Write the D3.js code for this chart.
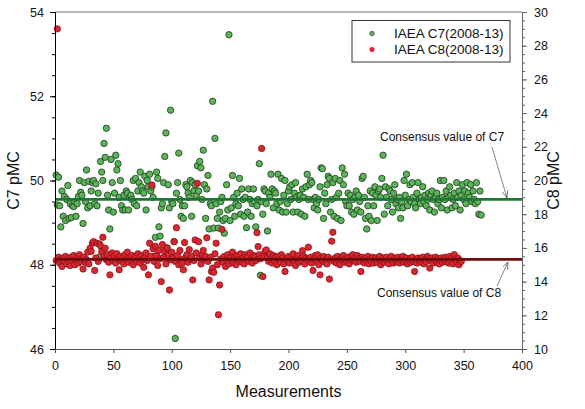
<!DOCTYPE html>
<html><head><meta charset="utf-8">
<script src="https://cdn.jsdelivr.net/npm/d3@7"></script>
<style>
body{margin:0;background:#fff;}
svg{display:block;font-family:"Liberation Sans",Arial,sans-serif;}
</style></head>
<body><svg id="chart" width="585" height="409"></svg>
<script>
// C7 pMC (left axis), measurements 1..n
const c7Values = [
50.13,49.42,50.08,49.40,48.90,49.75,49.15,49.62,49.05,49.55,
49.88,49.10,49.45,49.12,49.40,49.38,49.50,49.15,49.45,49.62,
50.00,49.72,49.65,48.98,49.95,49.50,50.25,49.35,49.98,49.40,
49.75,49.95,50.00,49.45,49.92,49.40,49.70,48.18,50.45,50.20,
50.00,50.88,50.55,51.24,49.65,49.30,48.85,50.50,49.95,49.25,
49.70,50.60,50.25,50.40,49.60,50.00,49.40,49.30,49.65,49.30,
49.75,49.70,49.30,49.60,49.65,49.55,50.00,49.45,50.05,49.40,
49.75,49.95,50.20,49.85,49.75,49.70,50.10,49.30,50.00,49.85,
50.15,49.75,49.85,49.60,48.20,48.65,50.20,50.05,48.90,48.68,
49.35,49.45,49.95,50.57,51.13,48.40,49.90,49.35,51.67,49.50,
49.45,48.55,46.25,49.70,49.95,50.65,49.55,49.15,49.40,49.10,
49.40,49.90,49.85,49.70,49.60,50.00,49.15,49.95,49.75,49.90,
49.65,50.35,49.75,50.45,50.30,49.55,50.72,49.90,49.10,49.80,
50.12,48.85,49.45,49.40,51.88,48.87,51.00,49.45,49.10,48.87,
49.25,49.50,49.60,49.05,48.75,49.10,49.90,49.30,53.46,49.05,
49.35,50.12,49.60,49.15,49.45,49.70,49.40,50.05,49.20,49.80,
49.55,49.15,49.60,48.88,49.25,49.80,49.55,49.15,49.45,49.80,
49.50,48.90,49.40,49.55,50.40,47.75,49.50,49.20,49.80,49.75,
49.45,48.80,49.70,49.60,50.15,49.80,49.35,49.75,49.70,49.45,
50.15,49.30,49.50,50.05,49.25,49.65,50.00,49.25,49.45,49.75,
49.85,49.55,49.90,49.25,49.70,49.95,49.60,49.25,49.55,49.65,
49.20,49.80,49.60,49.15,49.85,50.15,49.55,49.90,50.00,49.95,
49.55,49.35,49.60,49.45,49.30,49.55,49.85,50.30,50.28,49.10,
49.70,49.45,49.90,50.10,50.05,49.25,49.55,49.95,49.15,50.05,
49.60,49.10,49.70,50.00,49.05,50.30,49.90,50.15,49.50,49.40,
49.70,49.40,49.65,49.25,49.55,49.20,49.60,49.75,49.30,49.65,
49.50,49.25,50.05,50.10,49.60,49.10,48.85,49.40,49.15,49.75,
49.05,49.70,49.40,49.85,49.65,49.05,49.75,49.80,49.60,50.05,
50.60,49.20,49.85,49.60,49.40,49.80,49.75,49.55,49.25,49.70,
49.90,49.45,49.55,49.35,49.60,49.10,49.50,49.35,50.00,49.65,
50.15,49.40,49.55,49.90,49.50,49.95,49.60,49.45,49.35,49.70,
49.95,49.55,49.45,49.60,49.85,49.50,49.65,49.40,49.55,49.70,
49.30,49.65,49.75,49.55,49.25,49.60,49.70,49.45,49.55,50.00,
49.35,49.60,50.00,49.55,49.75,49.30,49.60,49.85,49.65,49.35,
49.55,49.70,49.40,49.95,49.60,49.75,49.30,49.65,49.90,49.55,
49.75,49.45,49.95,49.70,49.60,49.90,49.50,49.75,49.55,49.45,
49.95,49.50,49.20,49.75,49.18];

// C8 pMC (right axis), measurements 1..n
const c8Values = [
15.25,29.00,15.45,15.10,15.30,14.90,15.40,15.20,15.50,15.05,
15.35,15.15,14.95,15.45,15.25,15.55,15.00,15.30,15.40,15.10,
15.60,15.20,15.35,14.75,15.45,15.15,15.30,15.75,15.05,15.98,
15.78,16.28,16.37,14.66,15.40,16.28,15.20,16.24,16.12,15.78,
16.63,15.50,15.98,15.30,15.60,15.15,14.40,15.45,15.70,15.25,
15.55,15.10,15.65,15.35,14.70,15.50,15.20,15.40,15.05,15.60,
15.30,15.75,15.15,15.45,15.25,15.55,15.00,15.35,15.50,15.20,
15.65,15.40,15.10,15.55,15.30,14.85,15.45,15.70,15.25,14.40,
16.28,15.50,19.73,15.95,15.20,16.10,15.55,14.95,15.85,15.35,
14.00,16.20,15.45,15.80,15.05,16.00,15.60,13.50,15.30,15.75,
15.40,16.37,15.20,17.20,15.55,15.00,15.85,15.30,15.10,14.70,
16.32,15.45,15.60,15.15,15.90,15.35,15.50,14.10,15.25,16.47,
15.70,19.83,16.37,15.40,15.05,15.60,15.85,15.30,15.50,16.60,
15.20,14.10,15.45,14.60,14.80,14.55,15.65,16.28,15.00,12.03,
13.80,15.35,17.10,15.15,15.50,14.90,15.30,15.60,15.05,15.40,
15.25,15.75,15.10,15.45,15.00,15.55,15.30,15.20,15.65,15.15,
15.40,15.05,15.60,15.30,15.50,15.20,15.70,15.35,15.10,15.55,
15.45,15.25,16.90,16.08,15.60,15.35,21.90,14.30,15.50,15.80,
15.88,15.40,15.20,15.65,15.35,15.10,15.55,15.25,15.45,15.00,
15.50,15.30,15.15,15.60,15.40,15.05,14.60,15.35,15.25,15.50,
15.10,15.45,15.30,15.65,15.20,14.95,15.40,15.55,15.15,15.35,
15.25,15.84,15.50,15.05,15.40,15.30,16.04,15.20,15.45,15.10,
14.66,15.35,15.55,15.20,15.59,15.00,14.40,15.40,15.25,15.50,
15.15,15.35,15.05,15.45,14.15,15.30,16.40,16.93,15.20,15.40,
15.10,15.50,15.25,15.00,15.40,15.30,15.55,15.15,15.35,15.20,
15.45,15.05,15.30,15.50,15.60,15.25,15.40,15.15,15.55,15.35,
15.20,14.60,15.45,15.30,15.10,15.40,15.25,15.50,15.05,15.35,
15.20,15.45,15.10,15.30,15.40,15.15,15.35,15.50,15.00,15.25,
15.40,15.15,15.30,15.45,15.20,15.05,15.35,15.50,15.25,15.10,
15.40,15.20,15.30,15.45,15.10,15.35,15.25,15.50,15.15,15.30,
15.40,15.05,15.25,15.35,15.15,15.45,15.20,14.60,15.30,15.10,
15.40,15.25,15.35,15.15,15.45,15.05,15.30,15.20,15.50,15.35,
14.80,15.25,15.40,15.10,15.30,15.45,15.20,15.35,15.05,15.25,
15.40,15.15,15.30,15.45,15.20,15.35,15.10,15.50,15.25,15.40,
15.05,15.60,15.30,15.15,15.40,15.00,15.25,15.20];

const consensusC7 = 49.55;
const consensusC8 = 15.32;
const seriesNames = ["IAEA C7(2008-13)", "IAEA C8(2008-13)"];
const xTicks = [0,50,100,150,200,250,300,350,400];
const leftTicks = [46,48,50,52,54];
const rightTicks = [10,12,14,16,18,20,22,24,26,28,30];
const annotations = ["Consensus value of C7", "Consensus value of C8"];

const svg = d3.select("#chart");
const x = d3.scaleLinear().domain([0,400]).range([55,522]);
const yL = d3.scaleLinear().domain([46,54]).range([349,12]);
const yR = d3.scaleLinear().domain([10,30]).range([349,12]);

// top frame line
svg.append("line").attr("x1",55).attr("x2",522).attr("y1",12).attr("y2",12)
  .attr("stroke","#777").attr("stroke-width",1);

const greenFill="#5cb35a", greenStroke="#1d3b1d", redFill="#d9262f", redStroke="#7a1118";

// points
const c7 = c7Values.map((v,i)=>({m:i+1,v}));
const c8 = c8Values.map((v,i)=>({m:i+1,v}));
svg.append("g").selectAll("circle").data(c7).join("circle")
  .attr("cx",d=>x(d.m)).attr("cy",d=>yL(d.v)).attr("r",3.2)
  .attr("fill",greenFill).attr("stroke",greenStroke).attr("stroke-width",0.8);
svg.append("g").selectAll("circle").data(c8).join("circle")
  .attr("cx",d=>x(d.m)).attr("cy",d=>yR(d.v)).attr("r",3.2)
  .attr("fill",redFill).attr("stroke",redStroke).attr("stroke-width",0.7);

// consensus lines
svg.append("line").attr("x1",x(0)).attr("x2",x(400)).attr("y1",yL(consensusC7)).attr("y2",yL(consensusC7))
  .attr("stroke","#1f7536").attr("stroke-width",2.8);
svg.append("line").attr("x1",x(0)).attr("x2",x(400)).attr("y1",yR(consensusC8)).attr("y2",yR(consensusC8))
  .attr("stroke","#6e0c0c").attr("stroke-width",2.8);

// axes
function styleAxis(g, color){
  g.select(".domain").attr("stroke",color);
  g.selectAll(".tick line").attr("stroke",color);
  g.selectAll("text").attr("fill","#111").attr("font-size","12.5px")
   .attr("font-family",'"Liberation Sans",Arial,sans-serif');
}
const minorL = d3.range(46,54.01,0.5);
const minorR = d3.range(10,30.01,0.5);
svg.append("g").attr("transform","translate(55,0)")
  .call(d3.axisLeft(yL).tickValues(minorL).tickSize(3).tickFormat(""))
  .call(g=>styleAxis(g,"#000"));
svg.append("g").attr("transform","translate(55,0)")
  .call(d3.axisLeft(yL).tickValues(leftTicks).tickSize(5).tickPadding(6).tickFormat(d3.format("d")))
  .call(g=>styleAxis(g,"#000"));
svg.append("g").attr("transform","translate(522,0)")
  .call(d3.axisRight(yR).tickValues(minorR).tickSize(3).tickFormat(""))
  .call(g=>styleAxis(g,"#666"));
svg.append("g").attr("transform","translate(522,0)")
  .call(d3.axisRight(yR).tickValues(rightTicks).tickSize(5).tickPadding(7).tickFormat(d3.format("d")))
  .call(g=>styleAxis(g,"#666"));
svg.append("g").attr("transform","translate(0,349)")
  .call(d3.axisBottom(x).tickValues(xTicks).tickSize(4).tickPadding(8).tickFormat(d3.format("d")))
  .call(g=>styleAxis(g,"#555"));

// titles
svg.append("text").attr("x",288.5).attr("y",397).attr("text-anchor","middle")
  .attr("font-size","16px").attr("fill","#111").text("Measurements");
svg.append("text").attr("transform","translate(19,180.5) rotate(-90)").attr("text-anchor","middle")
  .attr("font-size","16px").attr("fill","#111").text("C7 pMC");
svg.append("text").attr("transform","translate(559,180.5) rotate(-90)").attr("text-anchor","middle")
  .attr("font-size","16px").attr("fill","#111").text("C8 pMC");

// legend
const lg = svg.append("g");
lg.append("rect").attr("x",352).attr("y",20.5).attr("width",158).attr("height",41.5)
  .attr("fill","#fff").attr("stroke","#333").attr("stroke-width",1);
[[greenFill,greenStroke],[redFill,redFill]].forEach((c,i)=>{
  lg.append("circle").attr("cx",372).attr("cy",33.5+i*16).attr("r",2.3)
    .attr("fill",c[0]).attr("stroke",c[1]).attr("stroke-width",0.6);
  lg.append("text").attr("x",394).attr("y",38.3+i*16).attr("font-size","13.5px")
    .attr("fill","#111").text(seriesNames[i]);
});

// annotations
svg.append("defs").append("marker").attr("id","arr").attr("viewBox","0 0 10 10")
  .attr("refX",10).attr("refY",5).attr("markerWidth",9).attr("markerHeight",9)
  .attr("orient","auto").append("path").attr("d","M0,1 L10,5 L0,9")
  .attr("fill","none").attr("stroke","#555").attr("stroke-width",1);
svg.append("text").attr("x",380).attr("y",141).attr("font-size","12px").attr("fill","#111").text(annotations[0]);
svg.append("line").attr("x1",492).attr("y1",147).attr("x2",507).attr("y2",198)
  .attr("stroke","#666").attr("stroke-width",0.8).attr("marker-end","url(#arr)");
svg.append("text").attr("x",377).attr("y",297).attr("font-size","12px").attr("fill","#111").text(annotations[1]);
svg.append("line").attr("x1",497).attr("y1",286).attr("x2",508).attr("y2",262)
  .attr("stroke","#666").attr("stroke-width",0.8).attr("marker-end","url(#arr)");
</script></body></html>
